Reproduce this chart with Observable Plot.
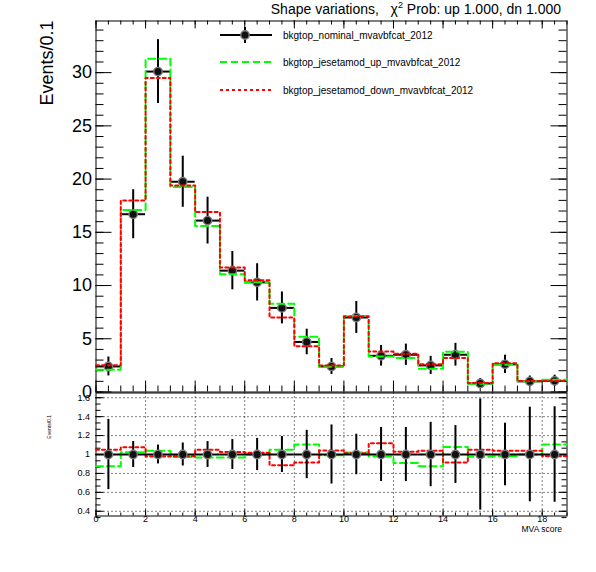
<!DOCTYPE html>
<html>
<head>
<meta charset="utf-8">
<script src="https://cdn.jsdelivr.net/npm/d3@7"></script>
<script src="https://cdn.jsdelivr.net/npm/@observablehq/plot@0.6"></script>
<style>
  html, body { margin: 0; padding: 0; background: #fff; }
  #wrap { position: relative; width: 596px; height: 572px; overflow: hidden; font-family: "Liberation Sans", Arial, sans-serif; }
  #wrap svg { position: absolute; left: 0; overflow: visible; }
  .title { position: absolute; right: 35px; top: 0px; font-size: 14px; line-height: 18px; white-space: pre; color: #000; }
  .title sup { font-size: 9px; vertical-align: 6px; line-height: 0; }
  .leg { position: absolute; left: 218px; font-size: 10px; color: #000; height: 20px; display: flex; align-items: center; white-space: nowrap; }
  .leg svg { position: static !important; margin-right: 9px; }
</style>
</head>
<body>
<div id="wrap"></div>
<script>
// ---------------- data ----------------
const binEdges = [0,1,2,3,4,5,6,7,8,9,10,11,12,13,14,15,16,17,18,19];
const binCenters = [0.5,1.5,2.5,3.5,4.5,5.5,6.5,7.5,8.5,9.5,10.5,11.5,12.5,13.5,14.5,15.5,16.5,17.5,18.5];
const nominal = [2.4,16.7,30.1,19.75,16.1,11.4,10.3,7.9,4.7,2.4,7.0,3.4,3.5,2.5,3.5,0.8,2.6,1.0,1.05];
const nominalErr = [0.89,2.3,3.0,2.4,2.2,1.8,1.75,1.5,1.2,0.75,1.5,0.97,1.0,0.85,1.07,0.47,0.86,0.5,0.53];
const upValues = [2.1,17.1,31.3,19.25,15.6,11.05,10.3,8.3,5.2,2.38,7.14,3.33,3.19,2.19,3.78,0.78,2.55,1.0,1.16];
const downValues = [2.52,18.0,29.5,19.4,16.9,11.7,10.5,7.0,4.3,2.5,7.1,3.8,3.6,2.6,3.2,0.84,2.7,1.04,1.03];

const seriesNames = ["bkgtop_nominal_mvavbfcat_2012", "bkgtop_jesetamod_up_mvavbfcat_2012", "bkgtop_jesetamod_down_mvavbfcat_2012"];
const titleText = "Shape variations,   \u03c7<sup>2</sup> Prob: up 1.000, dn 1.000";
const yTitle = "Events/0.1";
const xTitle = "MVA score";

const yMajorTop = [0,5,10,15,20,25,30];
const yMinorTop = d3.range(0, 35, 1);
const xMajor = [0,2,4,6,8,10,12,14,16,18];
const xMinor = d3.range(0, 19.01, 0.5);
const ratioMajor = [0.4,0.6,0.8,1.0,1.2,1.4,1.6];
const ratioLabels = ["0.4","0.6","0.8","1","1.2","1.4","1.6"];
const ratioMinor = d3.range(0.4 - 0.2/3, 1.65, 0.2/3);

// ---------------- derived tables ----------------
const points = binCenters.map((c, i) => ({
  x: c, lo: binEdges[i], hi: binEdges[i + 1],
  v: nominal[i], e: nominalErr[i],
  r: 1, re: nominalErr[i] / nominal[i]
}));
const stepOf = (vals) => binEdges.map((x, i) => ({x, y: vals[Math.min(i, vals.length - 1)]}));
const upStep = stepOf(upValues);
const downStep = stepOf(downValues);
const upRatioStep = stepOf(upValues.map((u, i) => u / nominal[i]));
const downRatioStep = stepOf(downValues.map((d, i) => d / nominal[i]));

const GREEN = "#00ff00", RED = "#ff0000";
const FONT = "'Liberation Sans', Arial, sans-serif";

// ---------------- geometry ----------------
const W = 596;
const mL = 95.5, mR = 29.5;
const FW = W - mL - mR;
const topH = 400, topMT = 20.5, topMB = 8.5;
const topFH = topH - topMT - topMB;
const botTop = 392, botH = 180, botMT = 0.5, botMB = 56.5;
const botFH = botH - botMT - botMB;

const wrap = document.getElementById("wrap");

// ---------------- upper pad ----------------
const upper = Plot.plot({
  width: W, height: topH,
  marginLeft: mL, marginRight: mR, marginTop: topMT, marginBottom: topMB,
  style: {fontFamily: FONT, background: "transparent", overflow: "visible", color: "black"},
  x: {domain: [0, 19], axis: null},
  y: {domain: [0, 34.85], axis: null},
  marks: [
    Plot.tickY(yMinorTop, {y: d => d, insetRight: FW - 8, stroke: "black"}),
    Plot.tickY(yMajorTop, {y: d => d, insetRight: FW - 16, stroke: "black"}),
    Plot.tickY(yMinorTop, {y: d => d, insetLeft: FW - 8, stroke: "black"}),
    Plot.tickY(yMajorTop, {y: d => d, insetLeft: FW - 16, stroke: "black"}),
    Plot.tickX(xMinor, {x: d => d, insetTop: topFH - 6, stroke: "black"}),
    Plot.tickX(xMajor, {x: d => d, insetTop: topFH - 11, stroke: "black"}),
    Plot.tickX(xMinor, {x: d => d, insetBottom: topFH - 4, stroke: "black"}),
    Plot.tickX(xMajor, {x: d => d, insetBottom: topFH - 8, stroke: "black"}),
    Plot.frame({stroke: "black", strokeWidth: 1}),
    Plot.text(yMajorTop, {y: d => d, text: d => String(d), frameAnchor: "left", textAnchor: "end", dx: -4, fontSize: 18}),
    Plot.text([yTitle], {text: d => d, frameAnchor: "top-left", rotate: -90, textAnchor: "end", dx: -55.5, dy: -0.5, fontSize: 18}),
    Plot.ruleX(points, {x: "x", y1: d => d.v - d.e, y2: d => d.v + d.e, stroke: "black", strokeWidth: 2}),
    Plot.ruleY(points, {y: "v", x1: "lo", x2: "hi", stroke: "black", strokeWidth: 2}),
    Plot.dot(points, {x: "x", y: "v", r: 4.2, fill: "#111", stroke: "#7a7a7a", strokeWidth: 1.4}),
    Plot.line(upStep, {x: "x", y: "y", curve: "step-after", stroke: GREEN, strokeWidth: 2, strokeDasharray: "7,4"}),
    Plot.line(downStep, {x: "x", y: "y", curve: "step-after", stroke: RED, strokeWidth: 2, strokeDasharray: "3,3"})
  ]
});
upper.style.top = "0px";
wrap.appendChild(upper);

// ---------------- lower pad ----------------
const lower = Plot.plot({
  width: W, height: botH,
  marginLeft: mL, marginRight: mR, marginTop: botMT, marginBottom: botMB,
  style: {fontFamily: FONT, background: "transparent", overflow: "visible", color: "black"},
  x: {domain: [0, 19], axis: null},
  y: {domain: [0.35, 1.65], axis: null},
  marks: [
    Plot.ruleX(xMajor.filter(d => d > 0), {x: d => d, stroke: "black", strokeDasharray: "1,3", strokeWidth: 1}),
    Plot.ruleY(ratioMajor, {y: d => d, stroke: "black", strokeDasharray: "1,3", strokeWidth: 1}),
    Plot.tickY(ratioMinor, {y: d => d, insetRight: FW - 5, stroke: "black"}),
    Plot.tickY(ratioMajor, {y: d => d, insetRight: FW - 8, stroke: "black"}),
    Plot.tickY(ratioMinor, {y: d => d, insetLeft: FW - 5, stroke: "black"}),
    Plot.tickY(ratioMajor, {y: d => d, insetLeft: FW - 8, stroke: "black"}),
    Plot.tickX(xMinor, {x: d => d, insetTop: botFH - 3, stroke: "black"}),
    Plot.tickX(xMajor, {x: d => d, insetTop: botFH - 6, stroke: "black"}),
    Plot.frame({stroke: "black", strokeWidth: 1}),
    Plot.text(ratioMajor, {y: d => d, text: (d, i) => ratioLabels[i], frameAnchor: "left", textAnchor: "end", dx: -6, fontSize: 9}),
    Plot.text(xMajor, {x: d => d, text: d => String(d), frameAnchor: "bottom", dy: 6, fontSize: 9}),
    Plot.text([xTitle], {text: d => d, frameAnchor: "bottom-right", textAnchor: "end", dx: -5, dy: 15.5, fontSize: 8.5}),
    Plot.text([yTitle], {text: d => d, frameAnchor: "top-left", rotate: -90, textAnchor: "end", dx: -48.5, dy: 22, fontSize: 5}),
    Plot.line(upRatioStep, {x: "x", y: "y", curve: "step-after", stroke: GREEN, strokeWidth: 2, strokeDasharray: "7,4"}),
    Plot.line(downRatioStep, {x: "x", y: "y", curve: "step-after", stroke: RED, strokeWidth: 2, strokeDasharray: "3,3"}),
    Plot.ruleX(points, {x: "x", y1: d => d.r - d.re, y2: d => d.r + d.re, stroke: "black", strokeWidth: 2}),
    Plot.ruleY(points, {y: "r", x1: "lo", x2: "hi", stroke: "black", strokeWidth: 2}),
    Plot.dot(points, {x: "x", y: "r", r: 4.2, fill: "#111", stroke: "#7a7a7a", strokeWidth: 1.4})
  ]
});
lower.style.top = botTop + "px";
wrap.appendChild(lower);

// ---------------- title ----------------
const t = document.createElement("div");
t.className = "title";
t.innerHTML = titleText;
wrap.appendChild(t);

// ---------------- legend ----------------
const legendSwatches = [
  `<svg width="56" height="20"><line x1="2" y1="10" x2="54" y2="10" stroke="black" stroke-width="2"/><line x1="27" y1="2" x2="27" y2="18" stroke="black" stroke-width="2"/><circle cx="27" cy="10" r="4.2" fill="#111" stroke="#7a7a7a" stroke-width="1.4"/></svg>`,
  `<svg width="56" height="20"><line x1="2" y1="10" x2="54" y2="10" stroke="${GREEN}" stroke-width="2" stroke-dasharray="7,4"/></svg>`,
  `<svg width="56" height="20"><line x1="2" y1="10" x2="54" y2="10" stroke="${RED}" stroke-width="2" stroke-dasharray="3,3"/></svg>`
];
const legendY = [35, 62, 90];
seriesNames.forEach((name, i) => {
  const d = document.createElement("div");
  d.className = "leg";
  d.style.top = (legendY[i] - 10) + "px";
  d.innerHTML = legendSwatches[i] + `<span>${name}</span>`;
  wrap.appendChild(d);
});
</script>
</body>
</html>
